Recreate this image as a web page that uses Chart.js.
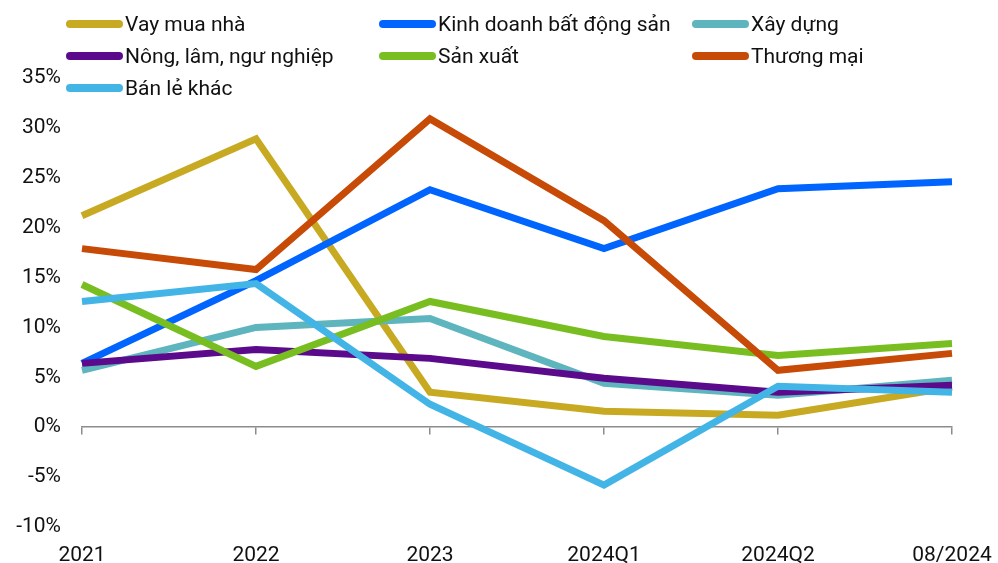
<!DOCTYPE html>
<html>
<head>
<meta charset="utf-8">
<script src="https://cdn.jsdelivr.net/npm/chart.js@4"></script>
<style>
  body { margin:0; background:#fff; }
  #wrap { position:relative; width:998px; height:563px; }
  #legend { position:absolute; left:66px; top:8px; display:grid;
            grid-template-columns:313px 313px 313px; grid-auto-rows:32px;
            font-family:Roboto, sans-serif; font-size:21px; color:#111; }
  #legend div { display:flex; align-items:center; white-space:nowrap; }
  #legend span.sw { display:inline-block; width:57px; height:8px; border-radius:4px; margin-right:2px; }
</style>
</head>
<body>
<div id="wrap">
  <canvas id="myChart" width="998" height="563"></canvas>
  <div id="legend"></div>
</div>
<script>
var periods = ['2021', '2022', '2023', '2024Q1', '2024Q2', '08/2024'];
var vayMuaNha  = [21.2, 28.9, 3.5, 1.6, 1.2, 4.0];
var kinhDoanhBDS = [6.4, 14.7, 23.8, 17.9, 23.9, 24.6];
var xayDung    = [5.7, 10.0, 10.9, 4.4, 3.2, 4.7];
var nongLam    = [6.4, 7.8, 6.9, 4.9, 3.5, 4.2];
var sanXuat    = [14.3, 6.1, 12.6, 9.1, 7.2, 8.4];
var thuongMai  = [17.9, 15.8, 30.9, 20.7, 5.7, 7.4];
var banLeKhac  = [12.6, 14.4, 2.3, -5.8, 4.1, 3.5];

var names  = ['Vay mua nhà', 'Kinh doanh bất động sản', 'Xây dựng', 'Nông, lâm, ngư nghiệp', 'Sản xuất', 'Thương mại', 'Bán lẻ khác'];
var series = [vayMuaNha, kinhDoanhBDS, xayDung, nongLam, sanXuat, thuongMai, banLeKhac];
var colors = ['#C8AA22', '#0064FF', '#5EB5BD', '#5B0A8C', '#78BE21', '#C74B07', '#42B4E6'];

var font = { family: 'Roboto, sans-serif', size: 21 };

var datasets = series.map(function (d, i) {
  return {
    label: names[i],
    data: d,
    borderColor: colors[i],
    backgroundColor: colors[i],
    borderWidth: 7,
    pointRadius: 0,
    tension: 0,
    order: series.length - i
  };
});

var chrt = new Chart(document.getElementById('myChart'), {
  type: 'line',
  data: { labels: periods, datasets: datasets },
  options: {
    responsive: false,
    animation: false,
    layout: { padding: { top: 78, right: 46, bottom: 0, left: 0 } },
    plugins: { legend: { display: false }, tooltip: { enabled: false } },
    scales: {
      x: {
        afterFit: function (s) { s.height = 36; s.paddingLeft = 0; s.paddingRight = 0; },
        grid: { display: false, drawTicks: false },
        border: { display: false },
        ticks: { color: '#111', font: font, padding: 16, maxRotation: 0 }
      },
      // axis line with tick marks at the 0% level
      x2: {
        type: 'category',
        labels: periods,
        position: { y: 0 },
        afterFit: function (s) { s.height = 0; s.paddingLeft = 0; s.paddingRight = 0; },
        grid: { drawOnChartArea: false, drawTicks: true, tickLength: 7, color: '#8c8c8c', lineWidth: 1.5 },
        border: { display: true, color: '#8c8c8c', width: 1.5 },
        ticks: { display: false }
      },
      y: {
        min: -10,
        max: 35,
        afterFit: function (s) { s.width = 82; },
        grid: { display: false, drawTicks: false },
        border: { display: false },
        ticks: { stepSize: 5, color: '#111', font: font, padding: 21,
                 callback: function (v) { return v + '%'; } }
      }
    }
  }
});

// legend in three columns
var lg = document.getElementById('legend');
chrt.data.datasets.forEach(function (ds) {
  var item = document.createElement('div');
  item.innerHTML = '<span class="sw" style="background:' + ds.borderColor + '"></span>' + ds.label;
  lg.appendChild(item);
});
</script>
</body>
</html>
